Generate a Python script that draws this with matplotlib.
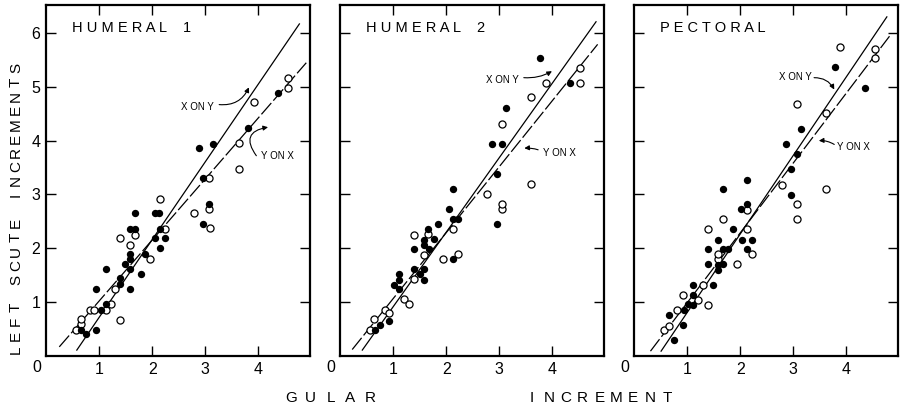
import matplotlib

matplotlib.use("Agg")
import matplotlib.pyplot as plt

# scute increments against gular increment, three scutes
PANEL_TITLES = ["H U M E R A L    1", "H U M E R A L    2", "P E C T O R A L"]

HUM1_FILLED_X = [0.66, 0.75, 0.94, 0.94, 1.03, 1.13, 1.13, 1.40, 1.40, 1.49, 1.58, 1.58, 1.59, 1.59,
                 1.58, 1.67, 1.67, 1.78, 1.86, 2.05, 2.05, 2.12, 2.14, 2.14, 2.24, 2.88, 2.96, 2.96,
                 3.07, 3.15, 3.81, 4.36]
HUM1_FILLED_Y = [0.49, 0.40, 0.49, 1.25, 0.85, 0.97, 1.61, 1.34, 1.44, 1.71, 1.81, 1.89, 1.61, 1.24,
                 2.36, 2.36, 2.65, 1.53, 1.89, 2.20, 2.65, 2.65, 2.36, 2.00, 2.19, 3.86, 3.30, 2.45,
                 2.83, 3.94, 4.24, 4.89]
HUM1_OPEN_X = [0.57, 0.66, 0.66, 0.83, 0.91, 1.13, 1.23, 1.30, 1.40, 1.39, 1.59, 1.67, 1.95, 2.14,
               2.24, 2.79, 3.07, 3.07, 3.08, 3.64, 3.64, 3.91, 4.55, 4.55]
HUM1_OPEN_Y = [0.49, 0.60, 0.68, 0.85, 0.85, 0.85, 0.96, 1.24, 0.66, 2.19, 2.07, 2.25, 1.80, 2.91,
               2.36, 2.65, 3.30, 2.73, 2.37, 3.47, 3.96, 4.71, 4.98, 5.17]

HUM2_FILLED_X = [0.66, 0.75, 0.93, 1.01, 1.12, 1.12, 1.12, 1.39, 1.39, 1.50, 1.58, 1.59, 1.58, 1.58,
                 1.66, 1.67, 1.77, 1.84, 2.05, 2.13, 2.13, 2.22, 2.13, 2.87, 3.05, 2.96, 2.96, 3.13,
                 3.77, 4.33]
HUM2_FILLED_Y = [0.48, 0.57, 0.65, 1.32, 1.41, 1.52, 1.24, 1.98, 1.61, 1.52, 1.61, 1.42, 2.06, 2.16,
                 2.36, 1.99, 2.17, 2.45, 2.73, 3.11, 2.55, 2.55, 1.80, 3.94, 3.94, 3.39, 2.45, 4.61,
                 5.53, 5.07]
HUM2_OPEN_X = [0.56, 0.64, 0.85, 0.93, 1.20, 1.30, 1.39, 1.39, 1.58, 1.66, 1.94, 2.13, 2.22, 2.77,
               3.05, 3.05, 3.05, 3.59, 3.59, 3.88, 4.52, 4.52]
HUM2_OPEN_Y = [0.48, 0.68, 0.85, 0.79, 1.05, 0.96, 2.25, 1.43, 1.88, 2.26, 1.80, 2.36, 1.89, 3.01,
               4.31, 2.73, 2.83, 4.81, 3.20, 5.07, 5.35, 5.07]

PECT_FILLED_X = [0.65, 0.75, 0.92, 0.94, 1.02, 1.11, 1.11, 1.11, 1.48, 1.39, 1.39, 1.58, 1.58, 1.58,
                 1.67, 1.67, 1.67, 1.77, 1.86, 2.02, 2.04, 2.13, 2.13, 2.13, 2.23, 2.87, 2.96, 2.96,
                 3.06, 3.14, 3.79, 4.35]
PECT_FILLED_Y = [0.76, 0.30, 0.57, 0.85, 0.96, 0.94, 1.13, 1.32, 1.32, 1.71, 1.98, 2.16, 1.69, 1.60,
                 1.71, 1.98, 3.10, 1.98, 2.36, 2.73, 2.16, 2.83, 3.27, 1.99, 2.16, 3.94, 2.99, 3.48,
                 3.76, 4.22, 5.36, 4.97]
PECT_OPEN_X = [0.56, 0.65, 0.81, 0.92, 1.21, 1.30, 1.39, 1.39, 1.58, 1.58, 1.67, 1.94, 2.13, 2.13,
               2.23, 2.78, 3.06, 3.06, 3.06, 3.61, 3.62, 3.88, 4.53, 4.53]
PECT_OPEN_Y = [0.48, 0.56, 0.85, 1.13, 1.04, 1.32, 0.94, 2.35, 1.80, 1.89, 2.54, 1.70, 2.35, 2.71,
               1.89, 3.18, 4.68, 2.83, 2.54, 3.10, 4.52, 5.74, 5.71, 5.54]

# regression lines: y on x (dashed) and x on y (solid)
Y_ON_X_SLOPE = [1.135, 1.227, 1.300]
Y_ON_X_INTERCEPT = [-0.114, -0.162, -0.313]
Y_ON_X_SPAN = [(0.25, 4.90), (0.23, 4.85), (0.31, 4.81)]
X_ON_Y_SLOPE = [1.446, 1.386, 1.461]
X_ON_Y_INTERCEPT = [-0.729, -0.472, -0.655]
X_ON_Y_SPAN = [(0.58, 4.77), (0.42, 4.82), (0.51, 4.76)]

X_TICKS = [1, 2, 3, 4]
Y_TICKS = [1, 2, 3, 4, 5, 6]

FONT = "Liberation Sans"

# label text position, arrow tail, arrow head, curvature
XY_NOTES = [((2.85, 4.63), (3.26, 4.67), (3.82, 4.99), 0.35),
            ((3.05, 5.12), (3.46, 5.17), (3.99, 5.29), 0.15),
            ((3.03, 5.19), (3.39, 5.17), (3.77, 4.95), -0.3)]
YX_NOTES = [((4.36, 3.71), (3.96, 3.72), (4.18, 4.25), -0.8),
            ((4.13, 3.78), (3.73, 3.83), (3.47, 3.86), 0.1),
            ((4.14, 3.88), (3.77, 3.93), (3.48, 4.00), 0.15)]


def spread_text(fig, text, start, stop, fixed, vertical=False, **kw):
    # place letters one by one, evenly spaced between start and stop (pixels)
    n = len(text)
    step = (stop - start) / (n - 1)
    W, H = fig.get_size_inches() * fig.dpi
    for i, ch in enumerate(text):
        if ch == " ":
            continue
        pos = start + i * step
        if vertical:
            fig.text(fixed / W, 1 - pos / H, ch, rotation=90, ha="center", va="center", **kw)
        else:
            fig.text(pos / W, 1 - fixed / H, ch, ha="center", va="center", **kw)


def draw_panel(ax, i, fx, fy, ox, oy):
    x0, x1 = Y_ON_X_SPAN[i]
    ax.plot([x0, x1], [Y_ON_X_INTERCEPT[i] + Y_ON_X_SLOPE[i] * x0, Y_ON_X_INTERCEPT[i] + Y_ON_X_SLOPE[i] * x1],
            color="black", lw=0.9, dashes=(12, 2.5), zorder=2)
    x0, x1 = X_ON_Y_SPAN[i]
    ax.plot([x0, x1], [X_ON_Y_INTERCEPT[i] + X_ON_Y_SLOPE[i] * x0, X_ON_Y_INTERCEPT[i] + X_ON_Y_SLOPE[i] * x1],
            color="black", lw=0.9, zorder=2)

    ax.scatter(ox, oy, s=26, facecolor="white", edgecolor="black", linewidth=0.9, zorder=3)
    ax.scatter(fx, fy, s=28, color="black", linewidth=0, zorder=4)

    ax.set_xlim(0, 4.97)
    ax.set_ylim(0, 6.52)
    ax.set_xticks(X_TICKS)
    ax.set_yticks(Y_TICKS)
    ax.tick_params(direction="in", length=7, width=1, top=True, right=True, labelsize=11.5, pad=4)
    ax.set_xticklabels([str(t) for t in X_TICKS], family=FONT)
    if i == 0:
        ax.set_yticklabels([str(t) for t in Y_TICKS], family=FONT)
    else:
        ax.set_yticklabels([])
    for spine in ax.spines.values():
        spine.set_linewidth(1.6)

    ax.annotate("0", xy=(0, 0), xycoords="axes fraction", xytext=(-9, -12), textcoords="offset pixels",
                ha="center", va="center", fontsize=11.5, family=FONT)
    ax.text(0.10, 0.934, PANEL_TITLES[i], transform=ax.transAxes, ha="left", va="center",
            fontsize=10.5, family=FONT)

    for label, (txt, tail, head, rad) in (("X ON Y", XY_NOTES[i]), ("Y ON X", YX_NOTES[i])):
        ax.text(txt[0], txt[1], label, ha="center", va="center", fontsize=7, family=FONT)
        ax.annotate("", xy=head, xytext=tail,
                    arrowprops=dict(arrowstyle="-|>", lw=0.8, color="black", mutation_scale=7,
                                    shrinkA=0, shrinkB=0, connectionstyle=f"arc3,rad={rad}"))


def main():
    fig = plt.figure(figsize=(9.03, 4.09), dpi=100)
    lefts = [46 / 903, 340 / 903, 634 / 903]
    panels = [
        (HUM1_FILLED_X, HUM1_FILLED_Y, HUM1_OPEN_X, HUM1_OPEN_Y),
        (HUM2_FILLED_X, HUM2_FILLED_Y, HUM2_OPEN_X, HUM2_OPEN_Y),
        (PECT_FILLED_X, PECT_FILLED_Y, PECT_OPEN_X, PECT_OPEN_Y),
    ]
    for i, (left, data) in enumerate(zip(lefts, panels)):
        ax = fig.add_axes([left, 53 / 409, 264 / 903, 351 / 409])
        draw_panel(ax, i, *data)

    spread_text(fig, "GULAR", 291, 370, 398, fontsize=11, family=FONT)
    spread_text(fig, "INCREMENT", 532, 667, 398, fontsize=11, family=FONT)
    spread_text(fig, "LEFT SCUTE INCREMENTS", 350, 68, 16, vertical=True, fontsize=11, family=FONT)

    fig.savefig("out.png", dpi=100)
    plt.close(fig)


if __name__ == "__main__":
    main()
